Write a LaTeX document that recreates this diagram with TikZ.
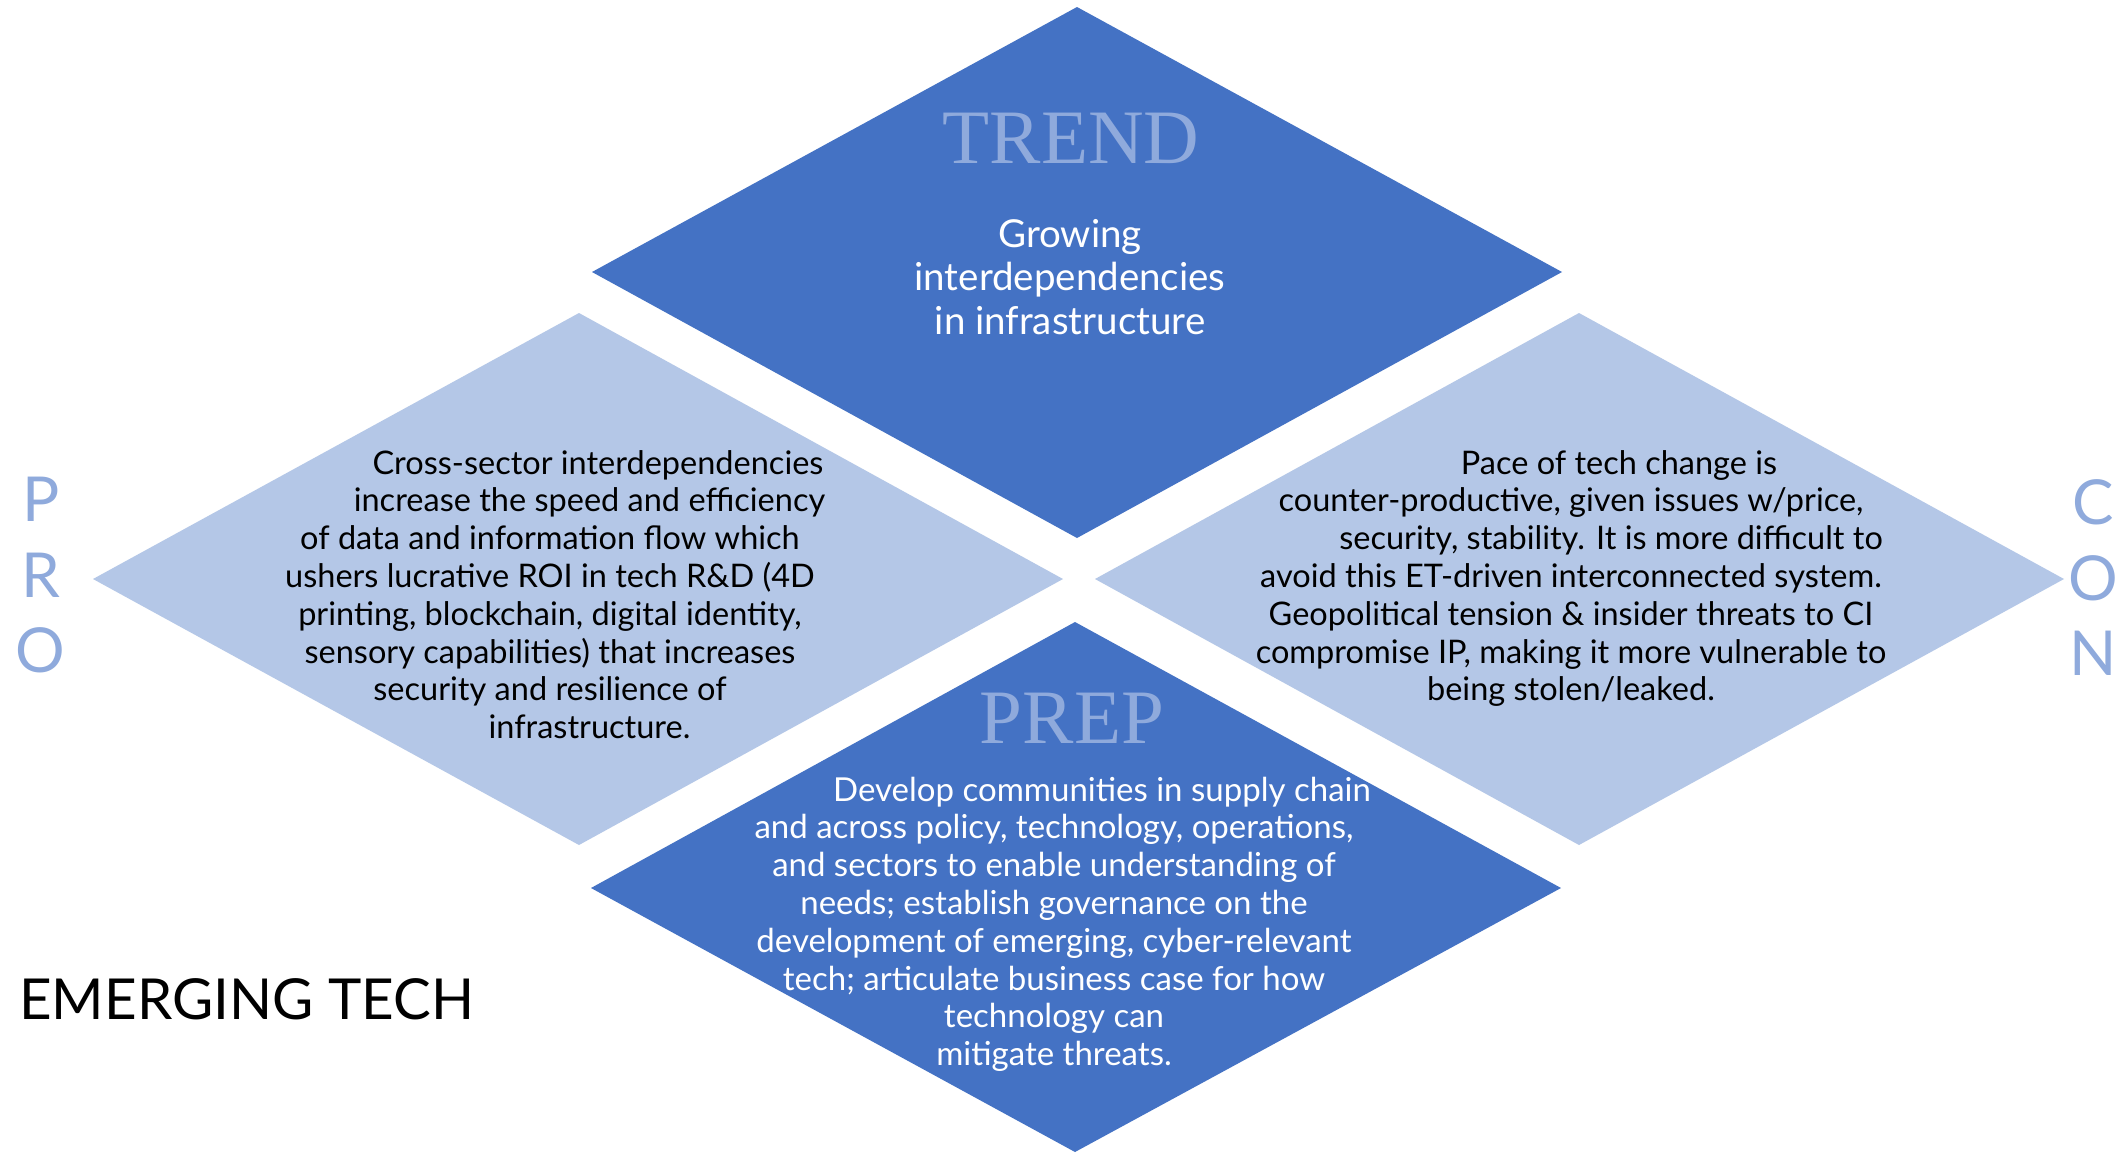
\documentclass[tikz,border=0pt]{standalone}
\usepackage{fontspec}
\setmainfont{Lato}
\newfontfamily\titlefont{Liberation Serif}
\definecolor{darkblue}{HTML}{4472C4}
\definecolor{lightblue}{HTML}{B4C7E7}
\definecolor{labelblue}{HTML}{8FAADC}
\begin{document}
\begin{tikzpicture}[x=1pt,y=-1pt,
  darkdia/.style={fill=darkblue,draw=none},
  lightdia/.style={fill=lightblue,draw=none},
  title/.style={font=\titlefont\fontsize{77}{77}\selectfont,text=labelblue,anchor=base,inner sep=0pt},
  sidetxt/.style={font=\fontsize{32.5}{37.8}\selectfont,text=black,align=center,anchor=base,inner sep=0pt},
  toptxt/.style={font=\fontsize{38.5}{43.5}\selectfont,text=white,align=center,anchor=base,inner sep=0pt},
  bottxt/.style={font=\fontsize{33}{37.8}\selectfont,text=white,align=center,anchor=base,inner sep=0pt},
  letter/.style={font=\fontsize{62}{62}\selectfont,text=labelblue,anchor=base,inner sep=0pt},
]
\useasboundingbox (0,0) rectangle (2125,1152);
\fill[white] (0,0) rectangle (2125,1152);
% diamonds
\path[darkdia]  (1077,7) -- (1562,272) -- (1077,538) -- (592,272) -- cycle;
\path[lightdia] (579,313) -- (1063,579) -- (579,845) -- (93,579) -- cycle;
\path[lightdia] (1579,313) -- (2064,579) -- (1579,845) -- (1095,579) -- cycle;
\path[darkdia]  (1075,622) -- (1561,888) -- (1075,1152) -- (591,888) -- cycle;
% titles
\node[title] (trend) at (1071,163) {TREND};
\node[title] (prep) at (1072,743) {PREP};
% texts (anchor = baseline of last line)
\node[toptxt] (trendtxt) at (1070,334) {Growing\\interdependencies\\in infrastructure};
\node[sidetxt] (protxt) at (550,738.6) {\hspace*{96pt}Cross-sector interdependencies\\
\hspace*{79pt}increase the speed and efficiency\\
of data and information flow which\\
ushers lucrative ROI in tech R\&D (4D\\
printing, blockchain, digital identity,\\
sensory capabilities) that increases\\
security and resilience of\\
\hspace*{79pt}infrastructure.};
\node[sidetxt] (contxt) at (1571,700.8) {\hspace*{96pt}Pace of tech change is\\
counter-productive, given issues w/price,\\
\hspace*{80pt}security, stability. It is more difficult to\\
avoid this ET-driven interconnected system.\\
Geopolitical tension \& insider threats to CI\\
compromise IP, making it more vulnerable to\\
being stolen/leaked.};
\node[bottxt] (preptxt) at (1054,1065.6) {\hspace*{96pt}Develop communities in supply chain\\
and across policy, technology, operations,\\
and sectors to enable understanding of\\
needs; establish governance on the\\
development of emerging, cyber-relevant\\
tech; articulate business case for how\\
technology can\\
mitigate threats.};
% side letters
\node[letter] (p1) at (41,521) {P};
\node[letter] (p2) at (41,597) {R};
\node[letter] (p3) at (40,672) {O};
\node[letter] (c1) at (2093,524) {C};
\node[letter] (c2) at (2093,600) {O};
\node[letter] (c3) at (2093,675) {N};
\node[font=\fontsize{56.5}{56.5}\selectfont,anchor=base west,inner sep=0pt] (emerging) at (19,1019) {EMERGING TECH};
\end{tikzpicture}
\end{document}
